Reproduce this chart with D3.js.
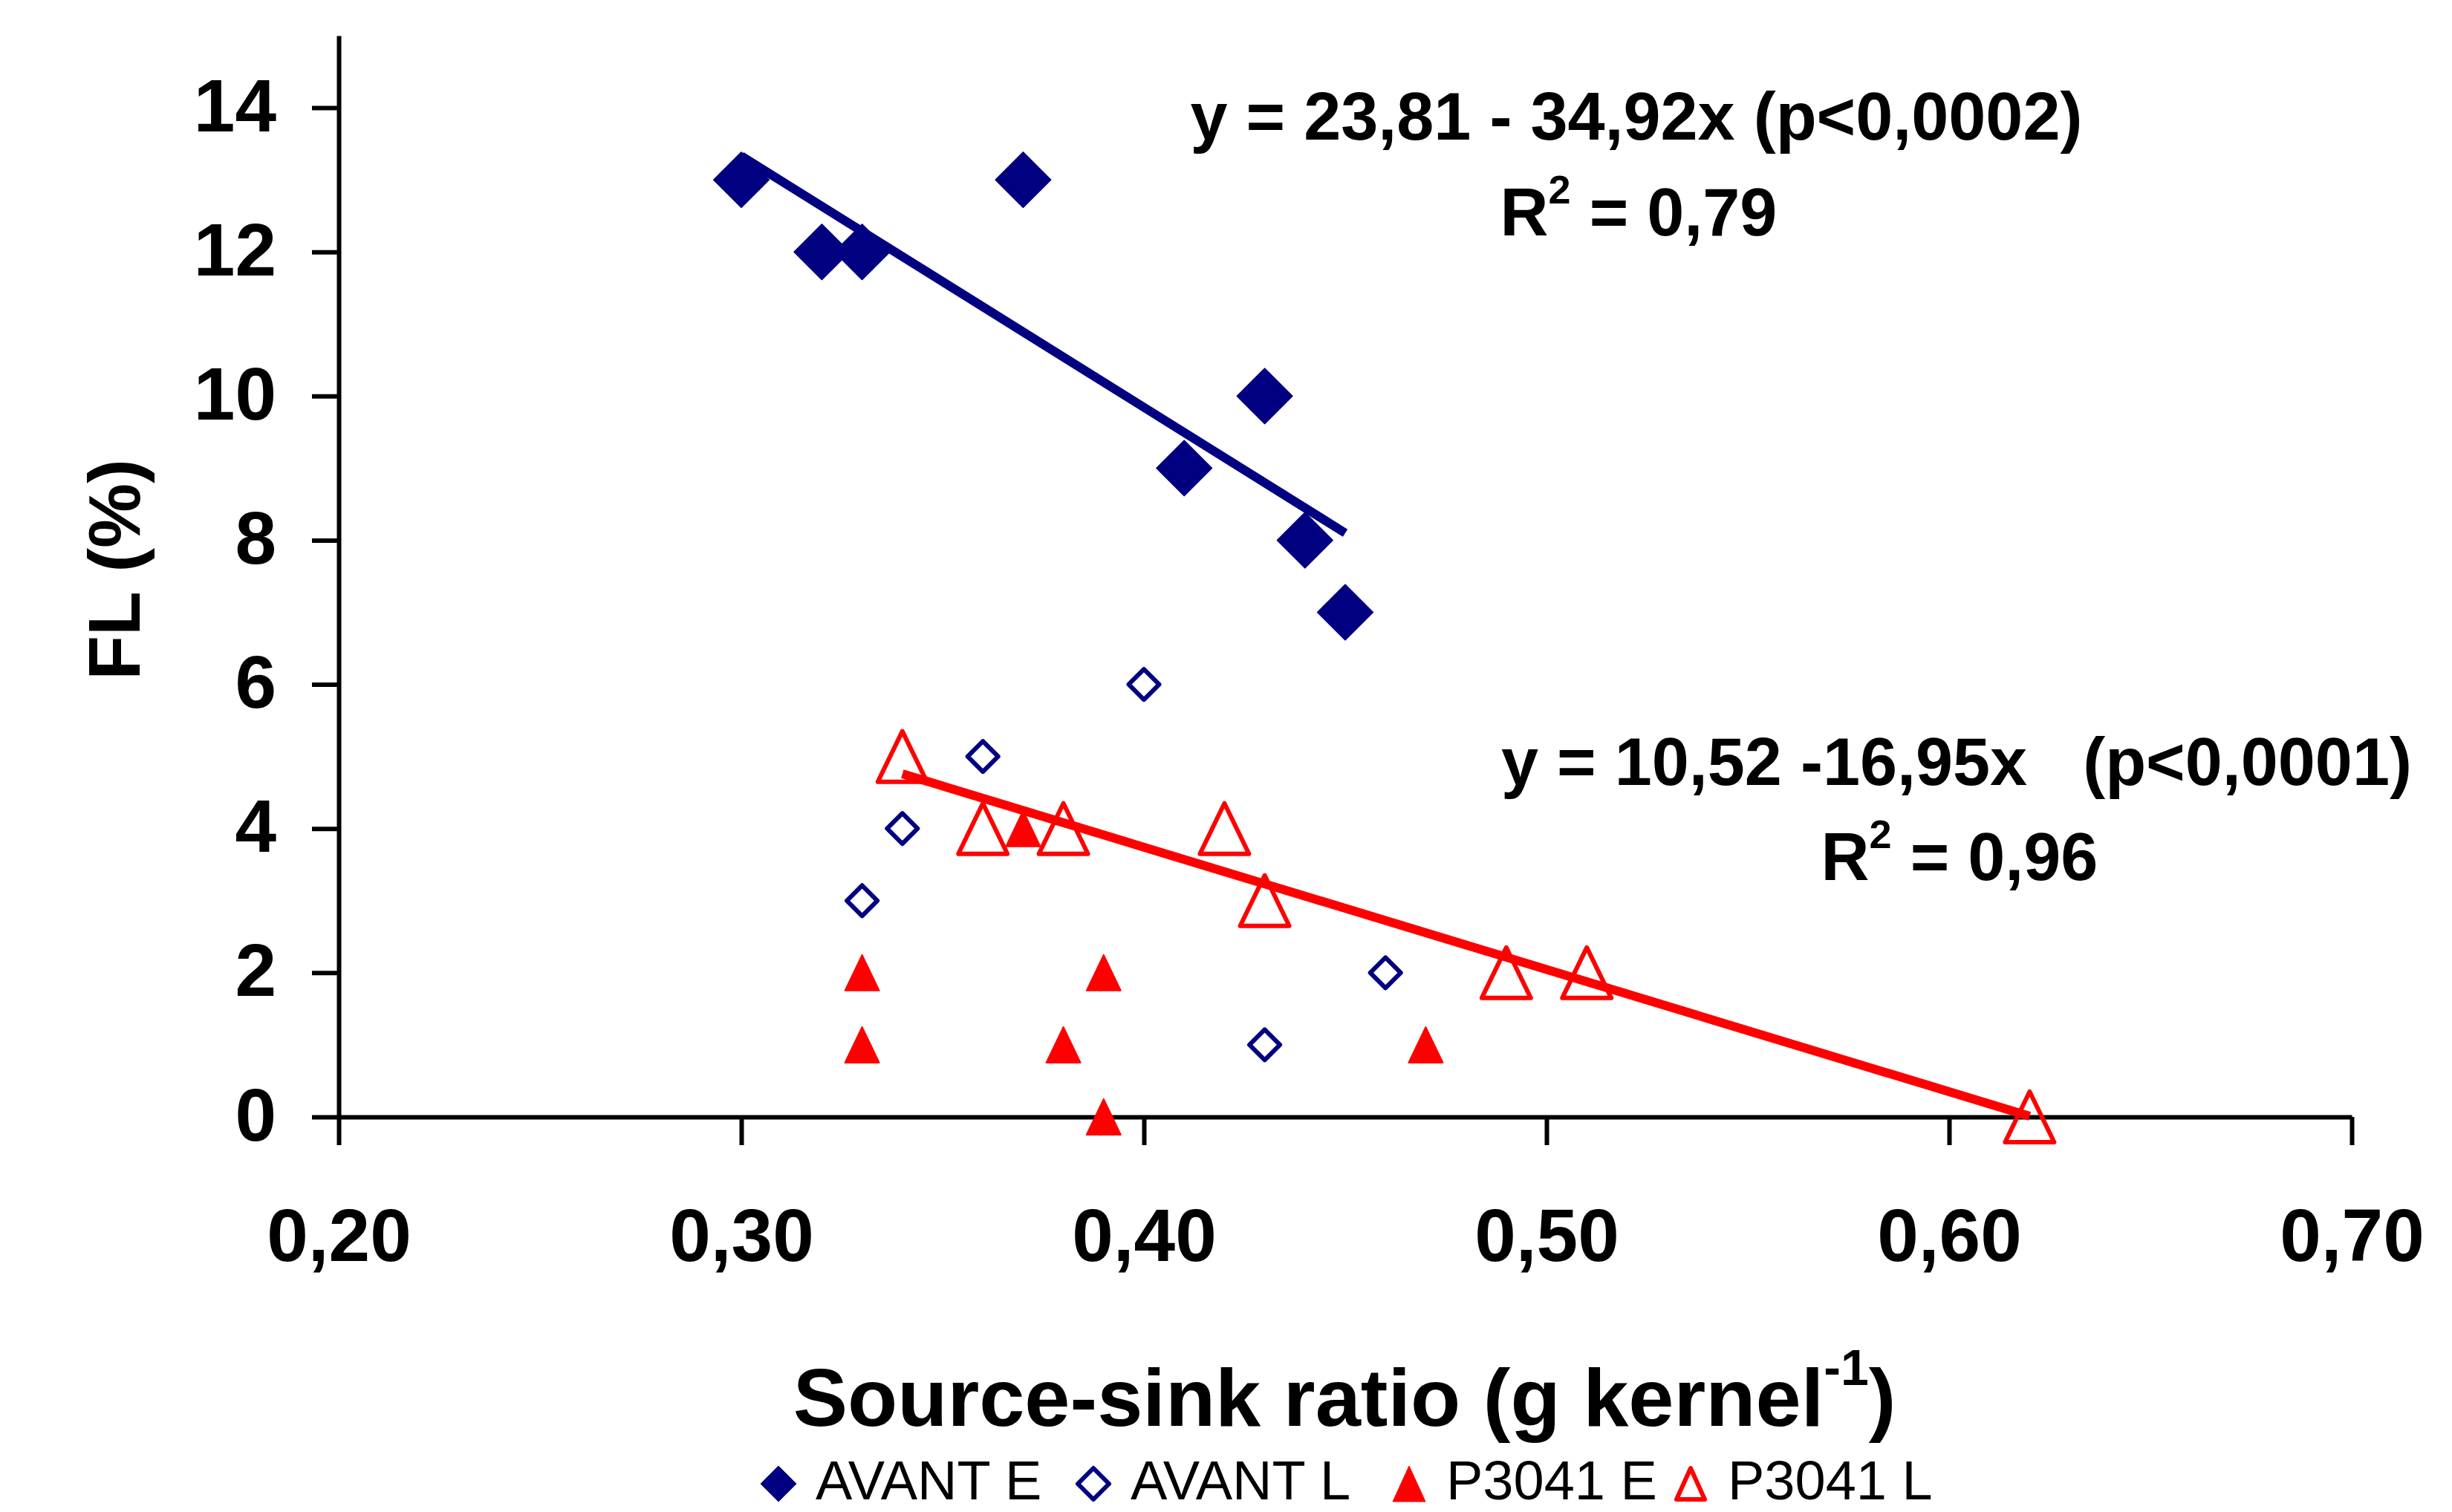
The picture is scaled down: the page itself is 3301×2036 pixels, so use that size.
<!DOCTYPE html>
<html>
<head>
<meta charset="utf-8">
<script src="https://cdn.jsdelivr.net/npm/d3@7"></script>
<style>
html, body { margin: 0; padding: 0; background: #ffffff; }
svg { display: block; }
text { font-family: "Liberation Sans", Arial, Helvetica, sans-serif; }
</style>
</head>
<body>
<svg id="chart" width="3301" height="2036"></svg>
<script>
// ---------------- DATA ----------------
const xTickValues = [0.20, 0.30, 0.40, 0.50, 0.60, 0.70];
const yTickValues = [0, 2, 4, 6, 8, 10, 12, 14];

const seriesNames = ["AVANT E", "AVANT L", "P3041 E", "P3041 L"];

const avantE_x = [0.30, 0.32, 0.33, 0.37, 0.41, 0.43, 0.44, 0.45];
const avantE_y = [13, 12, 12, 13, 9, 10, 8, 7];

const avantL_x = [0.33, 0.34, 0.36, 0.40, 0.43, 0.46];
const avantL_y = [3, 4, 5, 6, 1, 2];

const p3041E_x = [0.33, 0.33, 0.37, 0.38, 0.39, 0.39, 0.47];
const p3041E_y = [2, 1, 4, 1, 2, 0, 1];

const p3041L_x = [0.34, 0.36, 0.38, 0.42, 0.43, 0.49, 0.51, 0.62];
const p3041L_y = [5, 4, 4, 4, 3, 2, 2, 0];

// fitted regression lines (end points)
const avantTrend_x = [0.30, 0.45];
const avantTrend_y = [13.33, 8.10];
const p3041Trend_x = [0.34, 0.62];
const p3041Trend_y = [4.76, 0.01];

const avantEquation = "y = 23,81 - 34,92x (p<0,0002)";
const avantR2 = " = 0,79";
const p3041Equation = "y = 10,52 -16,95x   (p<0,0001)";
const p3041R2 = " = 0,96";

const xTitle = "Source-sink ratio (g kernel";
const xTitleSup = "-1";
const yTitle = "FL (%)";

// ---------------- STYLE / LAYOUT ----------------
const NAVY = "#000080";
const RED = "#ff0000";

const svg = d3.select("#chart");
const x = d3.scaleLinear().domain([0.2, 0.7]).range([456, 3166]);
const y = d3.scaleLinear().domain([0, 15]).range([1504, 48]);

const fmtX = v => d3.format(".2f")(v).replace(".", ",");

// axes
const yAxis = d3.axisLeft(y).tickValues(yTickValues).tickSize(36).tickSizeOuter(0).tickFormat(d3.format("d"));
const xAxis = d3.axisBottom(x).tickValues(xTickValues).tickSize(38).tickSizeOuter(0).tickFormat(fmtX);

const gy = svg.append("g").attr("transform", `translate(${x(0.2)},0)`).call(yAxis);
const gx = svg.append("g").attr("transform", `translate(0,${y(0)})`).call(xAxis);

[gx, gy].forEach(g => {
  g.select(".domain").attr("stroke", "#000").attr("stroke-width", 6);
  g.selectAll(".tick line").attr("stroke", "#000").attr("stroke-width", 6);
  g.selectAll(".tick text")
    .attr("fill", "#000")
    .attr("font-family", "'Liberation Sans', Arial, sans-serif")
    .attr("font-weight", "bold")
    .attr("font-size", 100);
});
gy.selectAll(".tick text").attr("x", -84).attr("dy", null).attr("y", 31);
gx.selectAll(".tick text").attr("y", 194).attr("dy", null);

// marker shapes
const diamondPath = r => `M0,${-r}L${r},0L0,${r}L${-r},0Z`;
const trianglePath = (w, h) => `M0,${-h / 2}L${w / 2},${h / 2}L${-w / 2},${h / 2}Z`;

function drawSeries(xs, ys, path, fill, stroke, sw) {
  svg.append("g").selectAll("path")
    .data(xs.map((v, i) => [v, ys[i]]))
    .join("path")
    .attr("transform", d => `translate(${x(d[0])},${y(d[1])})`)
    .attr("d", path)
    .attr("fill", fill)
    .attr("stroke", stroke)
    .attr("stroke-width", sw)
    .attr("stroke-linejoin", "round");
}

drawSeries(avantE_x, avantE_y, diamondPath(37), NAVY, NAVY, 2);
drawSeries(avantL_x, avantL_y, diamondPath(20.5), "#fff", NAVY, 6);
drawSeries(p3041E_x, p3041E_y, trianglePath(46, 48), RED, RED, 2);
drawSeries(p3041L_x, p3041L_y, trianglePath(66, 68), "none", RED, 6);

// trend lines
const line = d3.line().x(d => x(d[0])).y(d => y(d[1]));
svg.append("path")
  .datum(avantTrend_x.map((v, i) => [v, avantTrend_y[i]]))
  .attr("d", line).attr("fill", "none").attr("stroke", NAVY).attr("stroke-width", 12);
svg.append("path")
  .datum(p3041Trend_x.map((v, i) => [v, p3041Trend_y[i]]))
  .attr("d", line).attr("fill", "none").attr("stroke", RED).attr("stroke-width", 12);

// equations
function eqText(cx, by, str) {
  svg.append("text").attr("x", cx).attr("y", by)
    .attr("text-anchor", "middle").attr("font-weight", "bold").attr("font-size", 90)
    .style("white-space", "pre").text(str);
}
function r2Text(cx, by, str) {
  const t = svg.append("text").attr("x", cx).attr("y", by)
    .attr("text-anchor", "middle").attr("font-weight", "bold").attr("font-size", 90)
    .style("white-space", "pre");
  t.append("tspan").text("R");
  t.append("tspan").attr("font-size", 54).attr("dy", -43).text("2");
  t.append("tspan").attr("font-size", 90).attr("dy", 43).text(str);
}
eqText(2203, 188, avantEquation);
r2Text(2206, 317, avantR2);
eqText(2634, 1057, p3041Equation);
r2Text(2638, 1185, p3041R2);

// axis titles
const xt = svg.append("text").attr("x", 1810).attr("y", 1920)
  .attr("text-anchor", "middle").attr("font-weight", "bold").attr("font-size", 110);
xt.append("tspan").text(xTitle);
xt.append("tspan").attr("font-size", 68).attr("dy", -55).text(xTitleSup);
xt.append("tspan").attr("font-size", 110).attr("dy", 55).text(")");

svg.append("text")
  .attr("transform", "translate(188,767) rotate(-90)")
  .attr("text-anchor", "middle").attr("font-weight", "bold").attr("font-size", 98)
  .text(yTitle);

// legend
const legendMarkers = [
  { d: diamondPath(24), fill: NAVY, stroke: NAVY, sw: 1 },
  { d: diamondPath(21), fill: "#fff", stroke: NAVY, sw: 6 },
  { d: trianglePath(44, 48), fill: RED, stroke: RED, sw: 1 },
  { d: trianglePath(38, 42), fill: "#fff", stroke: RED, sw: 6 }
];
const legendMarkerX = [1048, 1472, 1897, 2276];
const legendY = 1998;
seriesNames.forEach((name, i) => {
  const m = legendMarkers[i];
  const lx = legendMarkerX[i];
  svg.append("path")
    .attr("transform", `translate(${lx},${legendY})`)
    .attr("d", m.d).attr("fill", m.fill).attr("stroke", m.stroke)
    .attr("stroke-width", m.sw).attr("stroke-linejoin", "round");
  svg.append("text").attr("x", lx + 50).attr("y", 2019)
    .attr("font-size", 74).attr("fill", "#000").text(name);
});
</script>
</body>
</html>
